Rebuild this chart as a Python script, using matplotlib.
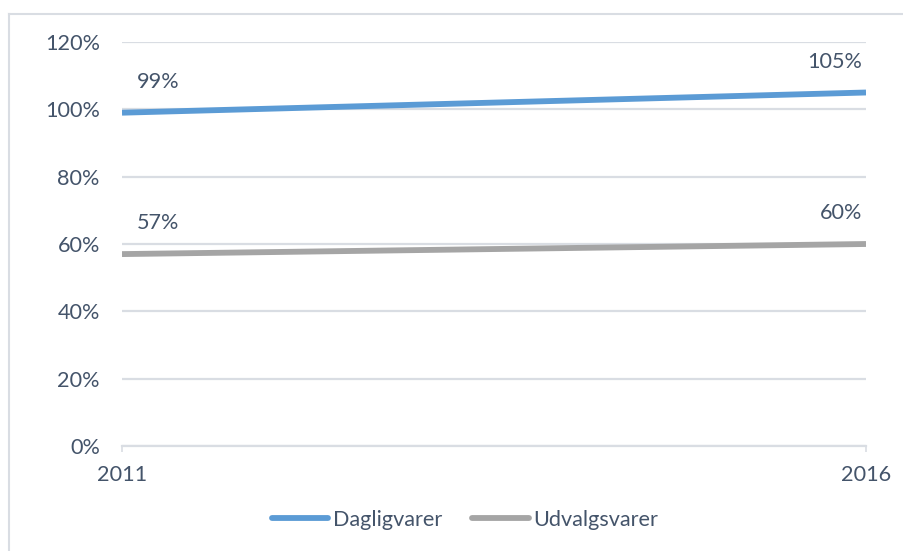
import matplotlib
matplotlib.use("Agg")
import matplotlib.pyplot as plt
from matplotlib.lines import Line2D
from matplotlib.ticker import FuncFormatter

years = ["2011", "2016"]
dagligvarer = [99, 105]
udvalgsvarer = [57, 60]
series_names = ["Dagligvarer", "Udvalgsvarer"]
yticks = [0, 20, 40, 60, 80, 100, 120]

TEXT = "#44546A"
GRID = "#D9DDE3"
BLUE = "#5B9BD5"
GRAY = "#A5A5A5"
FS = 15.6

plt.rcParams["font.family"] = ["Lato", "DejaVu Sans"]

W, H = 904, 551
fig = plt.figure(figsize=(W / 100, H / 100), dpi=100)
ax = fig.add_axes([122 / W, 1 - 446 / H, (866 - 122) / W, (446 - 42) / H])

x = list(range(len(years)))
ax.plot(x, dagligvarer, color=BLUE, lw=4.2, solid_capstyle="butt", label=series_names[0])
ax.plot(x, udvalgsvarer, color=GRAY, lw=4.2, solid_capstyle="butt", label=series_names[1])

ax.set_xlim(0, 1)
ax.set_ylim(0, 120)
ax.set_yticks(yticks)
ax.yaxis.set_major_formatter(FuncFormatter(lambda v, p: f"{v:.0f}%"))
ax.set_xticks(x)
ax.set_xticklabels(years)
ax.grid(axis="y", color=GRID, lw=1.6)
ax.set_axisbelow(True)
for s in ["top", "right", "left"]:
    ax.spines[s].set_visible(False)
ax.spines["bottom"].set_color(GRID)
ax.spines["bottom"].set_linewidth(1.6)
ax.tick_params(axis="y", length=0, pad=16, labelsize=FS, labelcolor=TEXT)
ax.tick_params(axis="x", length=4.5, width=1.2, color=GRID, pad=9, labelsize=FS, labelcolor=TEXT)

# data labels
for series in (dagligvarer, udvalgsvarer):
    for i, v in enumerate(series):
        if i == 0:
            ax.annotate(f"{v}%", (x[i], v), xytext=(15, 31), textcoords="offset pixels",
                        ha="left", va="center", fontsize=FS, color=TEXT)
        else:
            ax.annotate(f"{v}%", (x[i], v), xytext=(-4, 31), textcoords="offset pixels",
                        ha="right", va="center", fontsize=FS, color=TEXT)

# outer chart border (partially cropped)
fig.add_artist(Line2D([9 / W, 9 / W], [0, 1 - 14 / H], transform=fig.transFigure, color=GRID, lw=1.5))
fig.add_artist(Line2D([9 / W, 1], [1 - 14 / H, 1 - 14 / H], transform=fig.transFigure, color=GRID, lw=1.5))

h1 = Line2D([], [], color=BLUE, lw=4.2, solid_capstyle="round")
h2 = Line2D([], [], color=GRAY, lw=4.2, solid_capstyle="round")
fig.legend([h1, h2], series_names, loc="center", bbox_to_anchor=(465 / W, 1 - 520 / H),
           ncol=2, frameon=False, fontsize=FS, handlelength=2.6, handletextpad=0.2,
           columnspacing=1.4, labelcolor=TEXT)

fig.savefig("out.png", dpi=100)
